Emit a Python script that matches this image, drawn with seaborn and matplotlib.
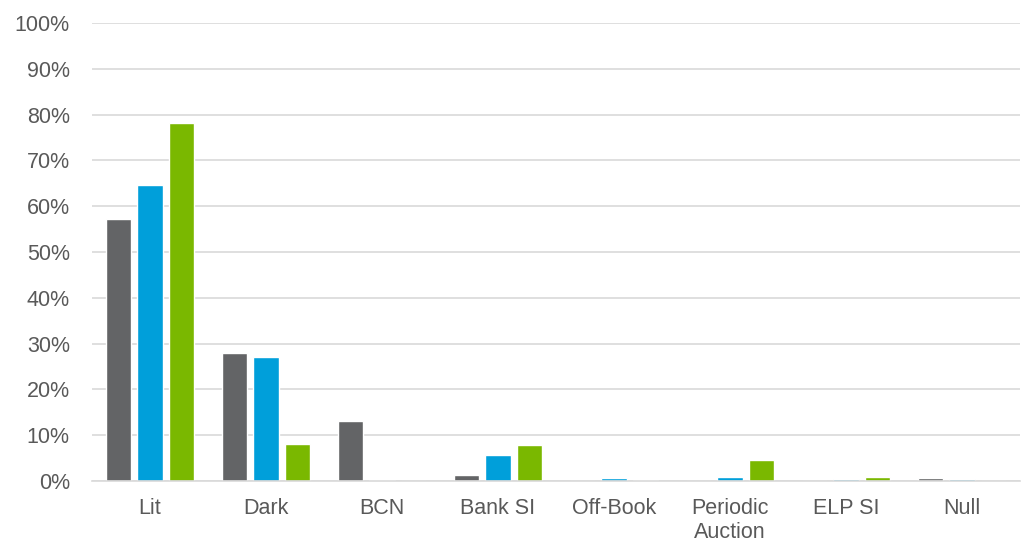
import matplotlib
matplotlib.use("Agg")
import matplotlib.pyplot as plt
import seaborn as sns
import pandas as pd
from matplotlib.ticker import PercentFormatter

categories = ["Lit", "Dark", "BCN", "Bank SI", "Off-Book", "Periodic\nAuction", "ELP SI", "Null"]
series_names = ["Series 1", "Series 2", "Series 3"]
series_1 = [57.2, 27.9, 13.0, 1.4, 0.0, 0.0, 0.0, 0.6]
series_2 = [64.6, 27.1, 0.2, 5.7, 0.6, 0.8, 0.5, 0.4]
series_3 = [78.2, 8.1, 0.0, 7.8, 0.2, 4.6, 0.8, 0.05]
colors = ["#636466", "#009FDA", "#7AB800"]

rows = []
for name, vals in zip(series_names, [series_1, series_2, series_3]):
    for cat, v in zip(categories, vals):
        rows.append({"category": cat, "series": name, "value": v})
df = pd.DataFrame(rows)

sns.set_style("white")
plt.rcParams["font.family"] = ["Liberation Sans", "DejaVu Sans"]

fig = plt.figure(figsize=(10.22, 5.49), dpi=100)
ax = fig.add_axes([92 / 1022, 1 - 481 / 549, 928 / 1022, 458 / 549])

sns.barplot(data=df, x="category", y="value", hue="series", palette=colors,
            width=0.82, gap=0.2, legend=False, ax=ax, saturation=1)

ax.set_ylim(0, 100)
ax.set_yticks(range(0, 101, 10))
ax.yaxis.set_major_formatter(PercentFormatter(decimals=0))
ax.grid(axis="y", color="#D9D9D9", linewidth=1.2)
ax.set_axisbelow(True)
for s in ["top", "right", "left"]:
    ax.spines[s].set_visible(False)
ax.spines["bottom"].set_color("#D9D9D9")
ax.spines["bottom"].set_linewidth(1.2)
ax.set_xlabel("")
ax.set_ylabel("")
ax.tick_params(axis="both", length=0, labelsize=15.5, colors="#595959")
ax.tick_params(axis="x", pad=12)
ax.tick_params(axis="y", pad=16)

fig.savefig("out.png", dpi=100)
